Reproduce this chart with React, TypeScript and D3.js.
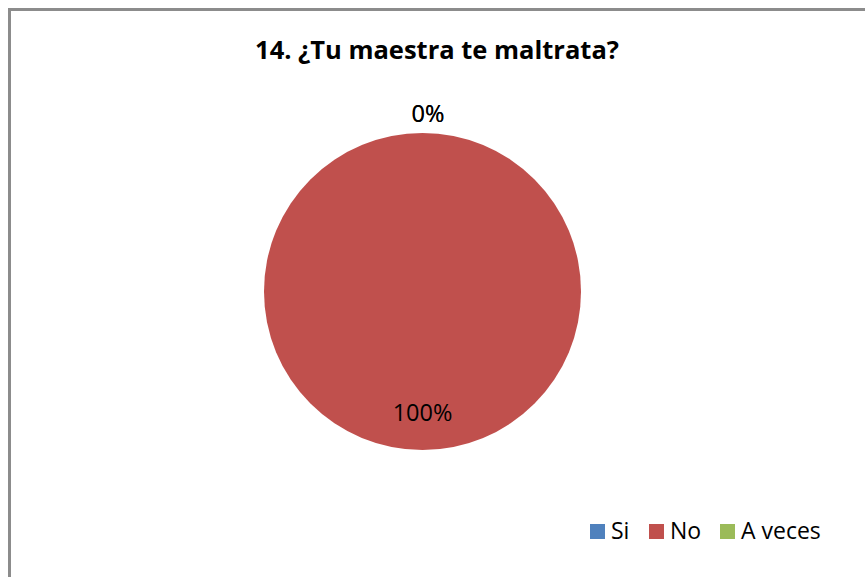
import React from "react";
import * as d3 from "d3";

const categories = ["Si", "No", "A veces"];
const values = [0, 100, 0];
const colors = ["#4F81BD", "#C0504D", "#9BBB59"];
const title = "14. ¿Tu maestra te maltrata?";

const W = 865;
const H = 577;
const FONT = "'Open Sans', sans-serif";

export default function App() {
  const cx = 422.5;
  const cy = 291.5;
  const r = 158.5;
  const total = d3.sum(values);
  const pie = d3.pie<number>().sort(null).value((d) => d)(values);
  const arc = d3.arc<d3.PieArcDatum<number>>().innerRadius(0).outerRadius(r);

  const legendX = [590, 649, 720];

  return (
    <svg width={W} height={H} style={{ position: "absolute", left: 0, top: 0 }}>
      <rect x={0} y={0} width={W} height={H} fill="#fff" />
      <line x1={9.5} y1={8} x2={9.5} y2={H} stroke="#8c8c8c" strokeWidth={3} />
      <line x1={8} y1={9.5} x2={W} y2={9.5} stroke="#8c8c8c" strokeWidth={3} />
      <text x={437} y={59} textAnchor="middle" fontFamily={FONT} fontWeight="bold" fontSize={25.5} fill="#000">
        {title}
      </text>
      <g transform={`translate(${cx},${cy})`}>
        {pie.map((p, i) =>
          p.endAngle - p.startAngle > 0 ? (
            <path key={i} d={arc(p) || ""} fill={colors[i]} />
          ) : null
        )}
        {pie.map((p, i) => {
          const mid = (p.startAngle + p.endAngle) / 2;
          const isZero = p.endAngle - p.startAngle === 0;
          const rr = isZero ? r + 20 : r * 0.76;
          const x = Math.sin(mid) * rr + (isZero ? 5.5 : 0);
          const y = -Math.cos(mid) * rr;
          const pct = Math.round((values[i] / total) * 100) + "%";
          return (
            <text key={"l" + i} x={x} y={y} textAnchor="middle" dominantBaseline="central"
              fontFamily={FONT} fontSize={23.5} fill="#000">
              {pct}
            </text>
          );
        })}
      </g>
      {categories.map((c, i) => (
        <g key={c}>
          <rect x={legendX[i]} y={524} width={15} height={15} fill={colors[i]} />
          <text x={legendX[i] + 21} y={539} fontFamily={FONT} fontSize={23} fill="#000">
            {c}
          </text>
        </g>
      ))}
    </svg>
  );
}
